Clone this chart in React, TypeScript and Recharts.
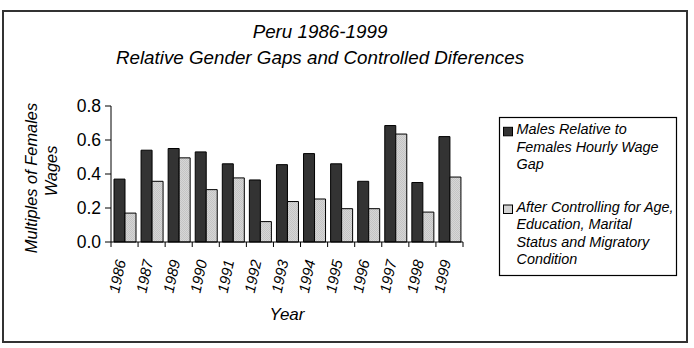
import { BarChart, Bar, XAxis, YAxis } from "recharts";

const years = ["1986", "1987", "1989", "1990", "1991", "1992", "1993", "1994", "1995", "1996", "1997", "1998", "1999"];
const maleGap = [0.37, 0.54, 0.55, 0.53, 0.46, 0.365, 0.455, 0.52, 0.46, 0.357, 0.685, 0.35, 0.62];
const controlledGap = [0.17, 0.357, 0.495, 0.308, 0.377, 0.12, 0.238, 0.253, 0.196, 0.196, 0.635, 0.176, 0.382];
const yTicks = [0, 0.2, 0.4, 0.6, 0.8];

const titleLines = ["Peru 1986-1999", "Relative Gender Gaps and Controlled Diferences"];
const yLabelLines = ["Multiples of Females", "Wages"];
const xLabel = "Year";
const seriesLegend = [
  { lines: ["Males Relative to", "Females Hourly Wage", "Gap"], fill: "#333333" },
  { lines: ["After Controlling for Age,", "Education, Marital", "Status and Migratory", "Condition"], fill: "#d2d2d2" },
];

const data = years.map((year, i) => ({
  year,
  males: maleGap[i],
  controlled: controlledGap[i],
}));

const W = 694;
const H = 348;
const FONT = "'Liberation Sans', Arial, sans-serif";
const PLOT_LEFT = 111;
const PLOT_RIGHT = 463;
const STEP = (PLOT_RIGHT - PLOT_LEFT) / years.length;

// year labels, slanted, plus the Excel-style tick marks between categories
function YearTick(props: any) {
  const { x, y, payload, index } = props;
  const ax = x + 1.5;
  const ay = y + 19;
  return (
    <g>
      <line x1={x - STEP / 2} x2={x - STEP / 2} y1={y} y2={y + 5} stroke="#000" strokeWidth={1} />
      {index === years.length - 1 && (
        <line x1={x + STEP / 2} x2={x + STEP / 2} y1={y} y2={y + 5} stroke="#000" strokeWidth={1} />
      )}
      <text
        x={ax}
        y={ay}
        transform={`rotate(-78 ${ax} ${ay})`}
        textAnchor="end"
        fontSize={15}
        fontStyle="italic"
        fontFamily={FONT}
        fill="#000"
      >
        {payload.value}
      </text>
    </g>
  );
}

export default function App() {
  return (
    <div style={{ position: "absolute", left: 0, top: 0, width: W, height: H, background: "#fff" }}>
      <div
        style={{
          position: "absolute",
          left: 2,
          top: 10,
          width: 686,
          height: 333,
          border: "2px solid #333",
          boxSizing: "border-box",
        }}
      />
      <BarChart
        width={W}
        height={H}
        data={data}
        margin={{ top: 106, right: W - PLOT_RIGHT, bottom: 0, left: 0 }}
        barCategoryGap={3}
        barGap={0}
        style={{ position: "absolute", left: 0, top: 0 }}
      >
        <defs>
          <pattern id="dither" width="2" height="2" patternUnits="userSpaceOnUse">
            <rect width="2" height="2" fill="#d6d6d6" />
            <rect width="1" height="1" fill="#c4c4c4" />
            <rect x="1" y="1" width="1" height="1" fill="#c4c4c4" />
          </pattern>
        </defs>
        <XAxis
          dataKey="year"
          height={106}
          interval={0}
          tickSize={0}
          tickMargin={0}
          tickLine={false}
          axisLine={{ stroke: "#000", strokeWidth: 1 }}
          tick={<YearTick />}
        />
        <YAxis
          width={PLOT_LEFT}
          domain={[0, 0.8]}
          ticks={yTicks}
          tickFormatter={(v: number) => v.toFixed(1)}
          tickSize={6}
          tickMargin={4}
          axisLine={{ stroke: "#000" }}
          tickLine={{ stroke: "#000" }}
          tick={{ fill: "#000", fontSize: 17.5, fontFamily: FONT }}
        />
        <Bar dataKey="males" fill="#333333" stroke="#000" strokeWidth={1} isAnimationActive={false} />
        <Bar dataKey="controlled" fill="url(#dither)" stroke="#000" strokeWidth={1} isAnimationActive={false} />
      </BarChart>
      <svg
        width={W}
        height={H}
        style={{ position: "absolute", left: 0, top: 0, pointerEvents: "none" }}
        fontFamily={FONT}
        fontStyle="italic"
      >
        {titleLines.map((t, i) => (
          <text key={t} x={320} y={38 + i * 26} textAnchor="middle" fontSize={18.8} fill="#000">
            {t}
          </text>
        ))}
        {yLabelLines.map((t, i) => (
          <text
            key={t}
            x={0}
            y={0}
            transform={`translate(${37 + i * 19.5} ${178 - i * 7}) rotate(-90)`}
            textAnchor="middle"
            fontSize={16.4}
            fill="#000"
          >
            {t}
          </text>
        ))}
        <text x={287} y={320} textAnchor="middle" fontSize={17} fill="#000">
          {xLabel}
        </text>
        <rect x={499.5} y={117.5} width={177} height={158} fill="#fff" stroke="#000" strokeWidth={1.2} />
        {seriesLegend.map((item, k) => {
          const base = k === 0 ? 134.3 : 212;
          return (
            <g key={k}>
              <rect x={503.5} y={base - 7} width={9} height={8.5} fill={item.fill} stroke="#000" strokeWidth={1} />
              {item.lines.map((line, j) => (
                <text key={line} x={516.5} y={base + j * 17.4} fontSize={14.4} fill="#000">
                  {line}
                </text>
              ))}
            </g>
          );
        })}
      </svg>
    </div>
  );
}
